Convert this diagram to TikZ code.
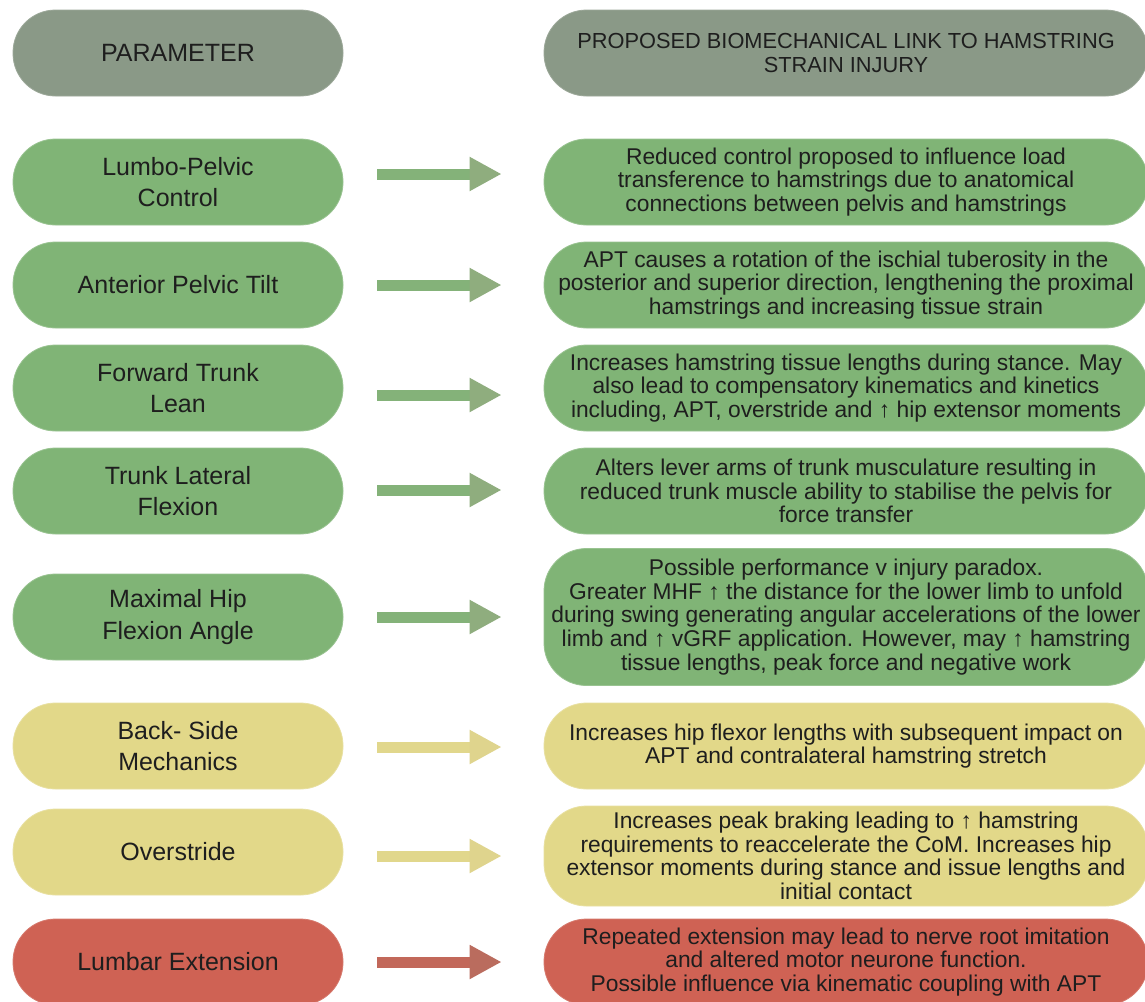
\documentclass[tikz,border=0pt]{standalone}
\usepackage{fontspec}
\setmainfont{Liberation Sans}
\usetikzlibrary{arrows.meta}

% palette
\definecolor{ink}{RGB}{30,30,30}
\definecolor{hdr}{RGB}{138,153,135}
\definecolor{grn}{RGB}{128,180,118}
\definecolor{yel}{RGB}{226,216,137}
\definecolor{red}{RGB}{207,98,84}
\definecolor{gshaft}{RGB}{132,178,121}
\definecolor{ghead}{RGB}{143,173,126}
\definecolor{yshaft}{RGB}{225,215,140}
\definecolor{yhead}{RGB}{223,212,141}
\definecolor{rshaft}{RGB}{194,104,90}
\definecolor{rhead}{RGB}{186,108,94}

\begin{document}
\begin{tikzpicture}[x=1pt,y=-1pt,
  box/.style={rounded corners=42.5pt, inner sep=0pt, align=center, text=ink, line width=0.8pt},
  parbox/.style={box, minimum width=330pt, minimum height=86pt,
    font=\fontsize{25}{31.5}\selectfont},
  linkbox/.style={box, minimum width=604pt, minimum height=86pt,
    font=\fontsize{22.8}{23.6}\selectfont},
  headbox/.style={fill=hdr, draw=hdr!85!white},
  greenbox/.style={fill=grn, draw=grn!80!white},
  yellowbox/.style={fill=yel, draw=yel!80!white},
  redbox/.style={fill=red, draw=red!85!white},
  arr/.style={line width=11pt, shorten <=34pt, shorten >=42pt},
  garr/.style={arr, draw=gshaft, -{Triangle[length=32pt,width=32pt,color=ghead]}},
  yarr/.style={arr, draw=yshaft, -{Triangle[length=32pt,width=32pt,color=yhead]}},
  rarr/.style={arr, draw=rshaft, -{Triangle[length=32pt,width=32pt,color=rhead]}},
]
\useasboundingbox (0,0) rectangle (1145,1001);
\clip (0,0) rectangle (1145,1001);
\fill[white] (0,0) rectangle (1145,1001);

% column headings
\node[parbox, headbox] (h1) at (178,53) {PARAMETER};
\node[linkbox, headbox, font=\fontsize{21.8}{23.6}\selectfont] (h2) at (846,53)
  {PROPOSED BIOMECHANICAL LINK TO HAMSTRING\\STRAIN INJURY};

% parameters
\node[parbox, greenbox]  (p1) at (178,182) {Lumbo-Pelvic\\Control};
\node[parbox, greenbox]  (p2) at (178,285) {Anterior Pelvic Tilt};
\node[parbox, greenbox]  (p3) at (178,388) {Forward Trunk\\Lean};
\node[parbox, greenbox]  (p4) at (178,491) {Trunk Lateral\\Flexion};
\node[parbox, greenbox]  (p5) at (178,617) {Maximal Hip\\Flexion Angle};
\node[parbox, yellowbox] (p6) at (178,746) {Back- Side\\Mechanics};
\node[parbox, yellowbox] (p7) at (178,852) {Overstride};
\node[parbox, redbox]    (p8) at (178,962) {Lumbar Extension};

% proposed links
\node[linkbox, greenbox] (d1) at (846,182)
  {Reduced control proposed to influence load\\
   transference to hamstrings due to anatomical\\
   connections between pelvis and hamstrings};
\node[linkbox, greenbox] (d2) at (846,285)
  {APT causes a rotation of the ischial tuberosity in the\\
   posterior and superior direction, lengthening the proximal\\
   hamstrings and increasing tissue strain};
\node[linkbox, greenbox] (d3) at (846,388)
  {Increases hamstring tissue lengths during stance. May\\
   also lead to compensatory kinematics and kinetics\\
   including, APT, overstride and ↑ hip extensor moments};
\node[linkbox, greenbox] (d4) at (846,491)
  {Alters lever arms of trunk musculature resulting in\\
   reduced trunk muscle ability to stabilise the pelvis for\\
   force transfer};
\node[linkbox, greenbox, minimum height=137pt] (d5) at (846,617)
  {Possible performance v injury paradox.\\
   Greater MHF ↑ the distance for the lower limb to unfold\\
   during swing generating angular accelerations of the lower\\
   limb and ↑ vGRF application. However, may ↑ hamstring\\
   tissue lengths, peak force and negative work};
\node[linkbox, yellowbox] (d6) at (846,746)
  {Increases hip flexor lengths with subsequent impact on\\
   APT and contralateral hamstring stretch};
\node[linkbox, yellowbox, minimum height=100pt] (d7) at (846,856)
  {Increases peak braking leading to ↑ hamstring\\
   requirements to reaccelerate the CoM. Increases hip\\
   extensor moments during stance and issue lengths and\\
   initial contact};
\node[linkbox, redbox] (d8) at (846,962)
  {Repeated extension may lead to nerve root imitation\\
   and altered motor neurone function.\\
   Possible influence via kinematic coupling with APT};

% connectors
\draw[garr] ([yshift=8pt]p1.east) -- ([yshift=8pt]d1.west);
\draw[garr] (p2.east) -- (d2.west);
\draw[garr] ([yshift=-7pt]p3.east) -- ([yshift=-7pt]d3.west);
\draw[garr] ([yshift=1pt]p4.east) -- ([yshift=1pt]d4.west);
\draw[garr] (p5.east) -- (d5.west);
\draw[yarr] ([yshift=-1pt]p6.east) -- ([yshift=-1pt]d6.west);
\draw[yarr] ([yshift=-4pt]p7.east) -- (d7.west);
\draw[rarr] (p8.east) -- (d8.west);
\end{tikzpicture}
\end{document}
